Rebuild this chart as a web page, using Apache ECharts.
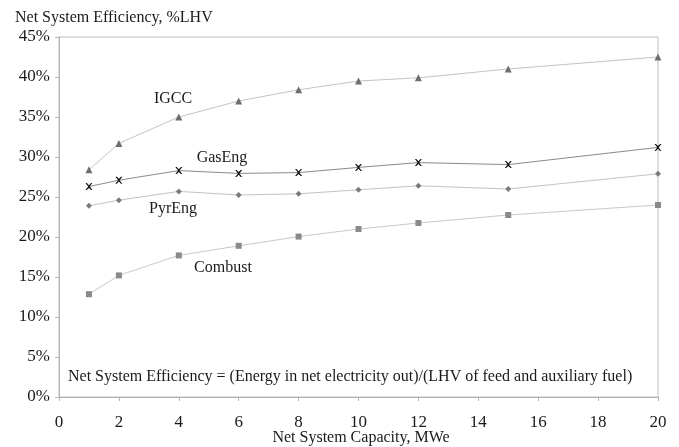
<!DOCTYPE html>
<html>
<head>
<meta charset="utf-8">
<script src="https://cdn.jsdelivr.net/npm/echarts@6/dist/echarts.min.js"></script>
<style>
  html, body { margin: 0; padding: 0; background: #fff; }
  #chart { width: 679px; height: 447px; }
</style>
</head>
<body>
<div id="chart"></div>
<script>
// Net system capacity (MWe) at which each system was evaluated
const capacity = [1, 2, 4, 6, 8, 10, 12, 15, 20];

// Net system efficiency, %LHV
const igcc    = [28.4, 31.7, 35.0, 37.0, 38.4, 39.5, 39.9, 41.0, 42.5];
const gasEng  = [26.3, 27.1, 28.3, 27.95, 28.05, 28.7, 29.3, 29.05, 31.2];
const pyrEng  = [23.9, 24.6, 25.7, 25.25, 25.4, 25.9, 26.4, 26.0, 27.9];
const combust = [12.85, 15.2, 17.7, 18.9, 20.05, 21.0, 21.75, 22.75, 24.0];

const xTicks = [0, 2, 4, 6, 8, 10, 12, 14, 16, 18, 20];
const yTicks = [0, 5, 10, 15, 20, 25, 30, 35, 40, 45];

const font = '"Liberation Serif", "Times New Roman", serif';
const textColor = '#1a1a1a';

function pairs(vals) {
  return capacity.map((c, i) => [c, vals[i]]);
}

function lineSeries(name, vals, lineColor, symbol, symbolSize, markerColor) {
  return {
    name: name,
    type: 'line',
    data: pairs(vals),
    symbol: symbol,
    symbolSize: symbolSize,
    showAllSymbol: true,
    lineStyle: { color: lineColor, width: 1 },
    itemStyle: { color: markerColor, borderWidth: 0 },
    emphasis: { disabled: true },
    z: 3
  };
}

// A cross-shaped marker for the gas engine series
const crossPath = 'path://M0,0 L2,0 L5,3 L8,0 L10,0 L6,5 L10,10 L8,10 L5,7 L2,10 L0,10 L4,5 Z';

const chart = echarts.init(document.getElementById('chart'), null, { renderer: 'canvas' });

chart.setOption({
  animation: false,
  backgroundColor: '#ffffff',
  grid: {
    left: 59, right: 21, top: 37, bottom: 50,
    containLabel: false,
    outerBoundsMode: 'none',
    show: true, borderColor: '#bdbdbd', borderWidth: 1, backgroundColor: 'transparent'
  },
  xAxis: {
    type: 'value',
    min: xTicks[0], max: xTicks[xTicks.length - 1], interval: 2,
    axisLine: { show: true, lineStyle: { color: '#b5b5b5', width: 1 } },
    axisTick: { show: true, length: 4, lineStyle: { color: '#b5b5b5' } },
    axisLabel: { fontFamily: font, fontSize: 17, color: textColor, margin: 17 },
    splitLine: { show: false }
  },
  yAxis: {
    type: 'value',
    min: yTicks[0], max: yTicks[yTicks.length - 1], interval: 5,
    axisLine: { show: true, lineStyle: { color: '#b5b5b5', width: 1 } },
    axisTick: { show: true, length: 4, lineStyle: { color: '#b5b5b5' } },
    axisLabel: { fontFamily: font, fontSize: 17, color: textColor, margin: 9,
                 formatter: v => v + '%' },
    splitLine: { show: false }
  },
  graphic: [
    { type: 'text', left: 15, top: 10,
      style: { text: 'Net System Efficiency, %LHV', font: '16px ' + font, fill: textColor } },
    { type: 'text', x: 361, y: 438,
      style: { text: 'Net System Capacity, MWe', font: '16px ' + font, fill: textColor, align: 'center', verticalAlign: 'middle' } },
    { type: 'text', x: 173, y: 99,
      style: { text: 'IGCC', font: '16px ' + font, fill: textColor, align: 'center', verticalAlign: 'middle' } },
    { type: 'text', x: 222, y: 158,
      style: { text: 'GasEng', font: '16px ' + font, fill: textColor, align: 'center', verticalAlign: 'middle' } },
    { type: 'text', x: 173, y: 209,
      style: { text: 'PyrEng', font: '16px ' + font, fill: textColor, align: 'center', verticalAlign: 'middle' } },
    { type: 'text', x: 223, y: 268,
      style: { text: 'Combust', font: '16px ' + font, fill: textColor, align: 'center', verticalAlign: 'middle' } },
    { type: 'text', x: 68, y: 377,
      style: { text: 'Net System Efficiency = (Energy in net electricity out)/(LHV of feed and auxiliary fuel)',
               font: '16px ' + font, fill: textColor, verticalAlign: 'middle' } }
  ],
  series: [
    lineSeries('IGCC', igcc, '#c4c4c4', 'triangle', 7, '#6e6e6e'),
    lineSeries('GasEng', gasEng, '#8a8a8a', crossPath, 7, '#111111'),
    lineSeries('PyrEng', pyrEng, '#c4c4c4', 'diamond', 6, '#7a7a7a'),
    lineSeries('Combust', combust, '#c8c8c8', 'rect', 6, '#8a8a8a')
  ]
});
</script>
</body>
</html>
